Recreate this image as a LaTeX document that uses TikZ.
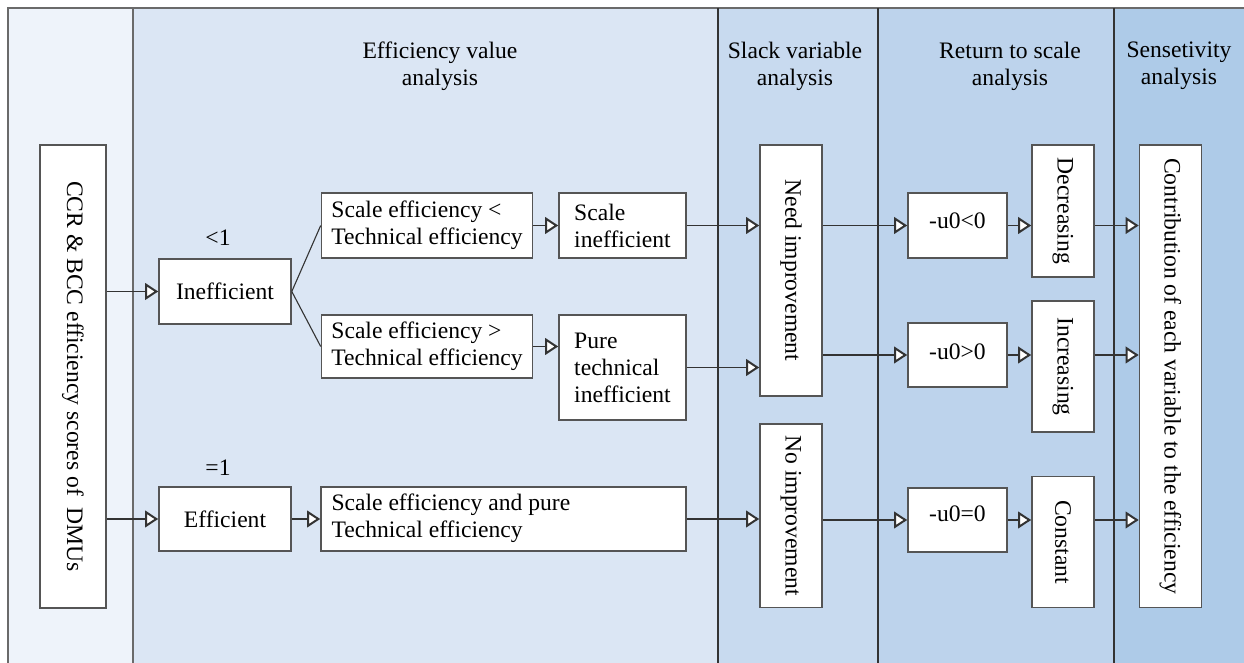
\documentclass[tikz,border=0pt]{standalone}
\usepackage{fontspec}
\setmainfont{Liberation Serif}
\usepackage{graphicx}
\usetikzlibrary{arrows.meta}
\definecolor{colA}{HTML}{EEF3FA}
\definecolor{colB}{HTML}{DBE6F4}
\definecolor{colC}{HTML}{C8DAEF}
\definecolor{colD}{HTML}{BDD3EC}
\definecolor{colE}{HTML}{AECBE8}
\definecolor{frameg}{HTML}{6A6A6A}
\definecolor{darkdiv}{HTML}{333333}
\definecolor{boxline}{HTML}{555555}
\definecolor{conn}{HTML}{333333}
\begin{document}
\begin{tikzpicture}[x=0.5pt,y=-0.5pt,
  every node/.style={font=\fontsize{11.8pt}{13.5pt}\selectfont},
  bx/.style={draw=boxline,line width=0.8pt,fill=white,inner sep=0pt,align=center},
  lbl/.style={inner sep=0pt,align=center},
  cn/.style={draw=conn,line width=0.55pt},
  ar/.style={cn,-{Triangle[open,fill=white,length=6.6pt,width=8.4pt,line width=1pt]}}]
\useasboundingbox (0,0) rectangle (1244,663);
% column fills
\fill[colA] (8,8) rectangle (133,663);
\fill[colB] (133,8) rectangle (718,663);
\fill[colC] (718,8) rectangle (878,663);
\fill[colD] (878,8) rectangle (1114,663);
\fill[colE] (1114,8) rectangle (1244,663);
% frame and dividers
\draw[frameg,line width=1pt] (8,663) -- (8,8) -- (1244,8);
\draw[frameg,line width=0.9pt] (133,8) -- (133,663);
\draw[darkdiv,line width=0.8pt] (718,8) -- (718,663);
\draw[darkdiv,line width=0.8pt] (878,8) -- (878,663);
\draw[darkdiv,line width=0.8pt] (1114,8) -- (1114,663);
% headers
\node[lbl] (h1) at (440,66) {Efficiency value\\analysis};
\node[lbl] (h2) at (795,66) {Slack variable\\analysis};
\node[lbl] (h3) at (1010,66) {Return to scale\\analysis};
\node[lbl] (h4) at (1179,66) {Sensetivity\\analysis};
% boxes
\node[bx,minimum width=33pt,minimum height=231.5pt] (ccr) at (73,376.5) {\rotatebox{-90}{CCR \& BCC efficiency scores of\ \ DMUs}};
\node[bx,minimum width=66pt,minimum height=32.5pt] (ineff) at (225,291.5) {Inefficient};
\node[bx,minimum width=66pt,minimum height=32pt] (eff) at (225,519) {Efficient};
\node[lbl] (lt) at (218,237.5) {<1};
\node[lbl] (eq) at (218,468) {=1};
\node[bx,minimum width=105.5pt,minimum height=32.5pt,align=left] (sel) at (427,225.5) {Scale efficiency <\\Technical efficiency};
\node[bx,minimum width=105.5pt,minimum height=31.5pt,align=left] (seg) at (427,346.5) {Scale efficiency >\\Technical efficiency};
\node[bx,minimum width=63.5pt,minimum height=32.5pt,align=left] (sineff) at (622.5,225.5) {Scale\\inefficient};
\node[bx,minimum width=63.5pt,minimum height=52.5pt,align=left] (pure) at (622.5,367.5) {Pure\\technical\\inefficient};
\node[bx,minimum width=182.5pt,minimum height=32pt] (sep) at (503.5,519) {\makebox[172pt][l]{\begin{tabular}{@{}l@{}}Scale efficiency and pure\\Technical efficiency\end{tabular}}};
\node[bx,minimum width=31pt,minimum height=125.5pt] (need) at (791,270.5) {\rotatebox{-90}{Need improvement}};
\node[bx,minimum width=31pt,minimum height=91.75pt] (noimp) at (791,515.75) {\rotatebox{-90}{No improvement}};
\node[bx,minimum width=49.5pt,minimum height=32.5pt] (ul) at (957.5,225.5) {\raisebox{5pt}{-u0<0}};
\node[bx,minimum width=49.5pt,minimum height=32pt] (ug) at (957.5,355) {\raisebox{3pt}{-u0>0}};
\node[bx,minimum width=49.5pt,minimum height=32pt] (ue) at (957.5,520) {\raisebox{6pt}{-u0=0}};
\node[bx,minimum width=31pt,minimum height=66pt] (dec) at (1063,211) {\rotatebox{-90}{Decreasing}};
\node[bx,minimum width=31pt,minimum height=65.5pt] (inc) at (1063,366.5) {\rotatebox{-90}{Increasing}};
\node[bx,minimum width=31pt,minimum height=65.5pt] (con) at (1063,542) {\rotatebox{-90}{Constant}};
\node[bx,minimum width=31pt,minimum height=231.25pt] (contrib) at (1170.5,376.25) {\rotatebox{-90}{Contribution of each variable to the efficiency}};
% connectors
\draw[ar] (ccr.east |- ineff.west) -- (ineff.west);
\draw[ar] (ccr.east |- eff.west) -- (eff.west);
\draw[cn] (ineff.east) -- (sel.west);
\draw[cn] (ineff.east) -- (seg.west);
\draw[ar] (sel.east) -- (sineff.west);
\draw[ar] (seg.east) -- (seg.east -| pure.west);
\draw[ar] (eff.east) -- (sep.west);
\draw[ar] (sineff.east) -- (sineff.east -| need.west);
\draw[ar] (pure.east) -- (pure.east -| need.west);
\draw[ar] (sep.east) -- (sep.east -| noimp.west);
\draw[ar] (need.east |- ul.west) -- (ul.west);
\draw[ar] (need.east |- ug.west) -- (ug.west);
\draw[ar] (noimp.east |- ue.west) -- (ue.west);
\draw[ar] (ul.east) -- (ul.east -| dec.west);
\draw[ar] (ug.east) -- (ug.east -| inc.west);
\draw[ar] (ue.east) -- (ue.east -| con.west);
\draw[ar] (ul.east -| dec.east) -- (ul.east -| contrib.west);
\draw[ar] (ug.east -| inc.east) -- (ug.east -| contrib.west);
\draw[ar] (ue.east -| con.east) -- (ue.east -| contrib.west);
\end{tikzpicture}
\end{document}
